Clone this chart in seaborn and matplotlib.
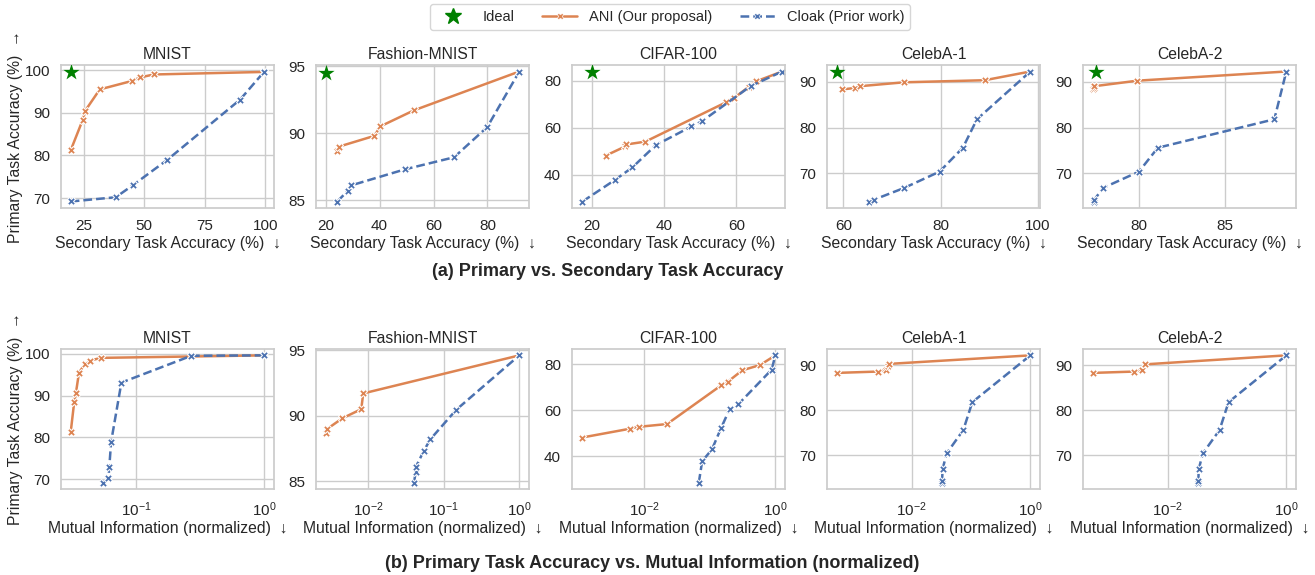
import numpy as np
import pandas as pd
import matplotlib.pyplot as plt
from matplotlib.lines import Line2D
from matplotlib.ticker import MultipleLocator, FixedLocator, NullLocator
import seaborn as sns

# Data
datasets = ["MNIST", "Fashion-MNIST", "CIFAR-100", "CelebA-1", "CelebA-2"]

# MNIST
mnist_ani_primary = [81.2, 88.4, 90.5, 95.5, 97.5, 98.3, 99.0, 99.6]
mnist_ani_secondary = [19.7, 24.7, 25.7, 31.7, 45.1, 48.3, 53.9, 99.6]
mnist_ani_mi = [0.031, 0.033, 0.034, 0.036, 0.040, 0.0435, 0.053, 1.0]
mnist_cloak_primary = [69.2, 70.2, 73.0, 78.9, 93.1, 99.5, 99.6]
mnist_cloak_secondary = [19.7, 38.3, 45.3, 59.4, 89.6, 99.3, 99.6]
mnist_cloak_mi = [0.055, 0.061, 0.062, 0.064, 0.077, 0.27, 1.0]
mnist_ideal = [19.7, 99.7]

# Fashion-MNIST
fmnist_ani_primary = [88.7, 89.0, 89.8, 90.5, 91.7, 94.6]
fmnist_ani_secondary = [24.3, 25.0, 38.1, 40.2, 52.7, 91.8]
fmnist_ani_mi = [0.00274, 0.00288, 0.00454, 0.0081, 0.0086, 1.0]
fmnist_cloak_primary = [84.9, 85.7, 86.1, 87.3, 88.2, 90.45, 94.6]
fmnist_cloak_secondary = [24.3, 28.2, 29.4, 49.4, 67.6, 79.9, 91.8]
fmnist_cloak_mi = [0.0404, 0.0425, 0.0428, 0.0542, 0.0664, 0.146, 1.0]
fmnist_ideal = [20.0, 94.5]

# CIFAR-100
cifar_ani_primary = [48.1, 52.0, 52.8, 54.0, 70.8, 72.5, 77.4, 79.7, 83.9]
cifar_ani_secondary = [23.9, 29.3, 29.5, 34.8, 57.2, 59.3, 63.5, 65.5, 72.7]
cifar_ani_mi = [0.00111, 0.00614, 0.0082, 0.0223, 0.1485, 0.19, 0.313, 0.586, 1.0]
cifar_cloak_primary = [28.5, 37.8, 43.0, 52.5, 60.5, 62.6, 77.7, 83.9]
cifar_cloak_secondary = [17.4, 26.5, 31.2, 37.7, 47.6, 50.4, 64.0, 72.7]
cifar_cloak_mi = [0.068, 0.0765, 0.108, 0.150, 0.201, 0.272, 0.88, 1.0]
cifar_ideal = [20.0, 83.7]

# CelebA-1
celeba1_ani_primary = [88.3, 88.6, 89.0, 89.85, 90.3, 92.2]
celeba1_ani_secondary = [59.7, 62.3, 63.4, 72.5, 89.1, 98.5]
celeba1_ani_mi = [0.00054, 0.0027, 0.0037, 0.0039, 0.0041, 1.0]
celeba1_cloak_primary = [63.9, 64.3, 66.85, 70.4, 75.6, 81.8, 92.2]
celeba1_cloak_secondary = [65.3, 66.3, 72.5, 79.8, 84.6, 87.5, 98.5]
celeba1_cloak_mi = [0.0322, 0.0325, 0.033, 0.0387, 0.074, 0.105, 1.0]
celeba1_ideal = [58.6, 92.2]

# CelebA-2
celeba2_ani_primary = [88.3, 88.6, 89.0, 90.2, 92.2]
celeba2_ani_secondary = [77.3, 77.35, 77.4, 79.9, 88.6]
celeba2_ani_mi = [0.00054, 0.00274, 0.00373, 0.0041, 1.0]
celeba2_cloak_primary = [63.9, 64.3, 66.85, 70.4, 75.6, 81.8, 92.2]
celeba2_cloak_secondary = [77.35, 77.4, 77.9, 80.0, 81.1, 87.9, 88.6]
celeba2_cloak_mi = [0.0325, 0.0328, 0.0332, 0.039, 0.0747, 0.106, 1.0]
celeba2_ideal = [77.5, 92.2]

ani_primary = [mnist_ani_primary, fmnist_ani_primary, cifar_ani_primary, celeba1_ani_primary, celeba2_ani_primary]
ani_secondary = [mnist_ani_secondary, fmnist_ani_secondary, cifar_ani_secondary, celeba1_ani_secondary, celeba2_ani_secondary]
ani_mi = [mnist_ani_mi, fmnist_ani_mi, cifar_ani_mi, celeba1_ani_mi, celeba2_ani_mi]
cloak_primary = [mnist_cloak_primary, fmnist_cloak_primary, cifar_cloak_primary, celeba1_cloak_primary, celeba2_cloak_primary]
cloak_secondary = [mnist_cloak_secondary, fmnist_cloak_secondary, cifar_cloak_secondary, celeba1_cloak_secondary, celeba2_cloak_secondary]
cloak_mi = [mnist_cloak_mi, fmnist_cloak_mi, cifar_cloak_mi, celeba1_cloak_mi, celeba2_cloak_mi]
ideal = [mnist_ideal, fmnist_ideal, cifar_ideal, celeba1_ideal, celeba2_ideal]

# tick spacing per panel (top row x, y) and log ticks for bottom row
top_xstep = [25, 20, 20, 20, 5]
ystep = [10, 5, 20, 10, 10]
log_ticks = [[0.1, 1], [0.01, 0.1, 1], [0.01, 1], [0.01, 1], [0.01, 1]]

ANI = "ANI (Our proposal)"
CLOAK = "Cloak (Prior work)"
colors = {ANI: "#dd8452", CLOAK: "#4c72b0"}
dashes = {ANI: "", CLOAK: (3.5, 1.6)}
markers = {ANI: "X", CLOAK: "X"}

sns.set_theme(style="whitegrid")
plt.rcParams['font.family'] = ['Liberation Sans', 'DejaVu Sans']
plt.rcParams['xtick.labelsize'] = 11
plt.rcParams['ytick.labelsize'] = 11


def make_df(ax_y, ax_x, cl_y, cl_x):
    df_a = pd.DataFrame({"x": ax_x, "y": ax_y, "method": ANI})
    df_c = pd.DataFrame({"x": cl_x, "y": cl_y, "method": CLOAK})
    return pd.concat([df_a, df_c], ignore_index=True)


fig = plt.figure(figsize=(13.15, 5.75), dpi=100)
W, H = 1315.0, 575.0
lefts = [61, 316, 572, 827, 1083]
ax_w = 213
rows = [(65, 208), (349, 489)]

for r, (top, bot) in enumerate(rows):
    for i, name in enumerate(datasets):
        ax = fig.add_axes([lefts[i] / W, 1 - bot / H, ax_w / W, (bot - top) / H])
        if r == 0:
            df = make_df(ani_primary[i], ani_secondary[i], cloak_primary[i], cloak_secondary[i])
        else:
            ax.set_xscale("log")
            df = make_df(ani_primary[i], ani_mi[i], cloak_primary[i], cloak_mi[i])
        sns.lineplot(data=df, x="x", y="y", hue="method", style="method",
                     palette=colors, dashes=dashes, markers=markers,
                     sort=False, estimator=None, legend=False, ax=ax,
                     lw=1.8, markersize=6)
        if r == 0:
            ax.scatter([ideal[i][0]], [ideal[i][1]], marker="*", s=150,
                       color="green", zorder=5, linewidths=0)
            ax.set_xlabel("Secondary Task Accuracy (%)  \u2193", fontsize=11.3, labelpad=2)
            ax.xaxis.set_major_locator(MultipleLocator(top_xstep[i]))
        else:
            ax.set_xlabel("Mutual Information (normalized)  \u2193", fontsize=11.3, labelpad=2)
            ax.xaxis.set_major_locator(FixedLocator(log_ticks[i]))
            ax.xaxis.set_minor_locator(NullLocator())
        ax.yaxis.set_major_locator(MultipleLocator(ystep[i]))
        ax.set_title(name, fontsize=11.3, pad=4)
        ax.tick_params(axis="both", pad=2)
        if i == 0:
            ax.set_ylabel("Primary Task Accuracy (%)  \u2192", fontsize=11.3)
            ax.yaxis.set_label_coords(-0.18, 0.5)
        else:
            ax.set_ylabel("")
        if r == 0 and i == 2:
            ax.set_xlim(14.5, 73.5)

handles = [
    Line2D([], [], marker="*", color="green", ls="none", markersize=12),
    Line2D([], [], color=colors[ANI], lw=1.8, marker="X", markersize=5, mec="w", mew=0.5),
    Line2D([], [], color=colors[CLOAK], lw=1.8, ls=(0, (3.5, 1.6)), marker="X", markersize=5, mec="w", mew=0.5),
]
fig.legend(handles, ["Ideal", ANI, CLOAK], loc="upper center",
           bbox_to_anchor=(670 / W, 1.005), ncol=3, fontsize=10.5,
           frameon=True, columnspacing=1.9, handlelength=2.4)

fig.text(608 / W, 1 - 271 / H, "(a) Primary vs. Secondary Task Accuracy",
         ha="center", va="center", fontsize=13, fontweight="bold")
fig.text(652 / W, 1 - 563 / H, "(b) Primary Task Accuracy vs. Mutual Information (normalized)",
         ha="center", va="center", fontsize=13, fontweight="bold")

fig.savefig("out.png", dpi=100)
